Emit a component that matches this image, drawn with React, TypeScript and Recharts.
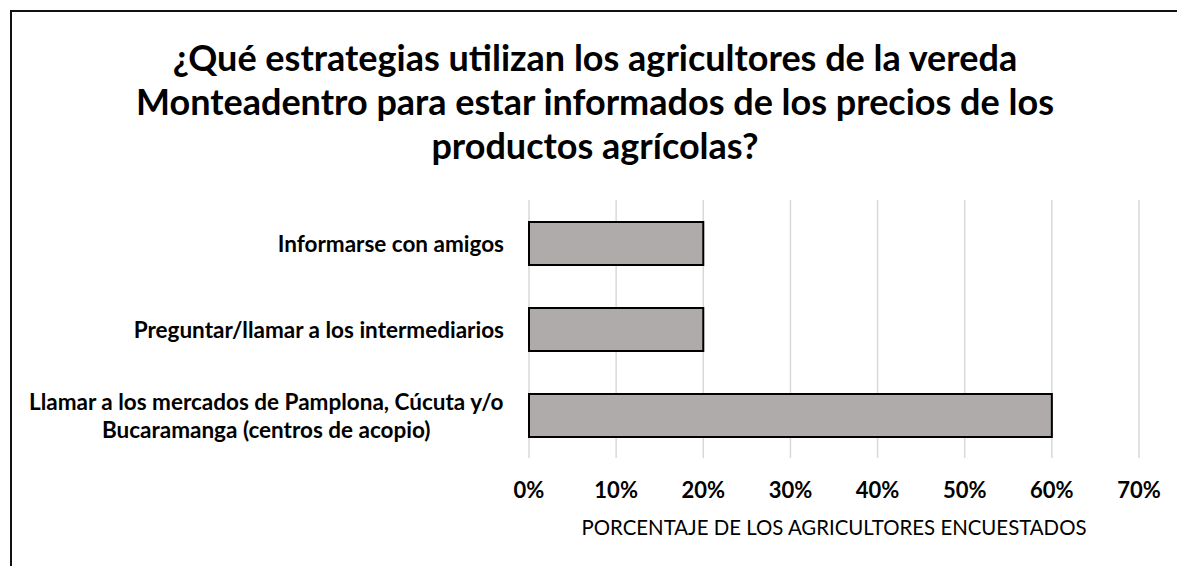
import React from "react";
import { BarChart, Bar, XAxis, YAxis, CartesianGrid, Label } from "recharts";

const categories = [
  "Informarse con amigos",
  "Preguntar/llamar a los intermediarios",
  "Llamar a los mercados de Pamplona, Cúcuta y/o\nBucaramanga (centros de acopio)",
];
const percentages = [20, 20, 60];
const xTicks = [0, 10, 20, 30, 40, 50, 60, 70];
const titleLines = [
  "¿Qué estrategias utilizan los agricultores de la vereda",
  "Monteadentro para estar informados de los precios de los",
  "productos agrícolas?",
];
const axisTitle = "PORCENTAJE DE LOS AGRICULTORES ENCUESTADOS";

const data = categories.map((c, i) => ({ name: c, value: percentages[i] }));

const FONT = "Lato, 'Open Sans', sans-serif";
const LABEL_SIZE = 22.5;
const TICK_SIZE = 22;

let ctx: CanvasRenderingContext2D | null = null;
const measure = (text: string, font: string) => {
  if (!ctx) ctx = document.createElement("canvas").getContext("2d");
  if (!ctx) return text.length * 10;
  ctx.font = font;
  return ctx.measureText(text).width;
};

const YTick = (props: any) => {
  const { x, y, payload } = props;
  const lines = String(payload.value).split("\n");
  const lh = 28;
  const right = x - 25;
  const font = `bold ${LABEL_SIZE}px Lato`;
  const maxW = Math.max(...lines.map((l) => measure(l, font)));
  const multi = lines.length > 1;
  return (
    <g>
      {lines.map((l, i) => (
        <text
          key={i}
          x={multi ? right - maxW / 2 : right}
          y={y + (i - (lines.length - 1) / 2) * lh}
          textAnchor={multi ? "middle" : "end"}
          dominantBaseline="central"
          fontFamily={FONT}
          fontWeight="bold"
          fontSize={LABEL_SIZE}
          fill="#000"
        >
          {l}
        </text>
      ))}
    </g>
  );
};

const XTick = (props: any) => {
  const { x, y, payload } = props;
  return (
    <text
      x={x}
      y={y + 31}
      textAnchor="middle"
      dominantBaseline="central"
      fontFamily={FONT}
      fontWeight="bold"
      fontSize={TICK_SIZE}
      fill="#000"
    >
      {`${payload.value}%`}
    </text>
  );
};

export default function App() {
  return (
    <div
      style={{
        position: "fixed",
        left: 0,
        top: 0,
        width: 1177,
        height: 566,
        overflow: "hidden",
        background: "#fff",
      }}
    >
      <div
        style={{
          position: "absolute",
          left: 10,
          top: 10,
          width: 1300,
          height: 700,
          border: "2px solid #111",
          boxSizing: "border-box",
        }}
      />
      <div
        style={{
          position: "absolute",
          left: 0,
          top: 35,
          width: 1190,
          textAlign: "center",
          fontFamily: FONT,
          fontWeight: "bold",
          fontSize: 36,
          lineHeight: "44px",
          color: "#000",
          whiteSpace: "nowrap",
        }}
      >
        {titleLines.map((t, i) => (
          <div key={i}>{t}</div>
        ))}
      </div>
      <div style={{ position: "absolute", left: 0, top: 0 }}>
        <BarChart
          width={1177}
          height={566}
          data={data}
          layout="vertical"
          margin={{ top: 200, right: 38, bottom: 48, left: 0 }}
        >
          <CartesianGrid horizontal={false} stroke="#D9D9D9" strokeWidth={1.5} />
          <XAxis
            type="number"
            domain={[0, 70]}
            ticks={xTicks}
            axisLine={false}
            tickLine={false}
            tickSize={0}
            tickMargin={0}
            height={60}
            tick={<XTick />}
            interval={0}
          >
            <Label
              value={axisTitle}
              position="bottom"
              offset={3}
              style={{ fontFamily: FONT, fontSize: 20.4, fill: "#000" }}
            />
          </XAxis>
          <YAxis
            type="category"
            dataKey="name"
            width={529}
            axisLine={false}
            tickLine={false}
            tickSize={0}
            tickMargin={0}
            tick={<YTick />}
            interval={0}
          />
          <Bar
            dataKey="value"
            fill="#AEABAA"
            stroke="#000"
            strokeWidth={2}
            barSize={43}
            isAnimationActive={false}
          />
        </BarChart>
      </div>
    </div>
  );
}
